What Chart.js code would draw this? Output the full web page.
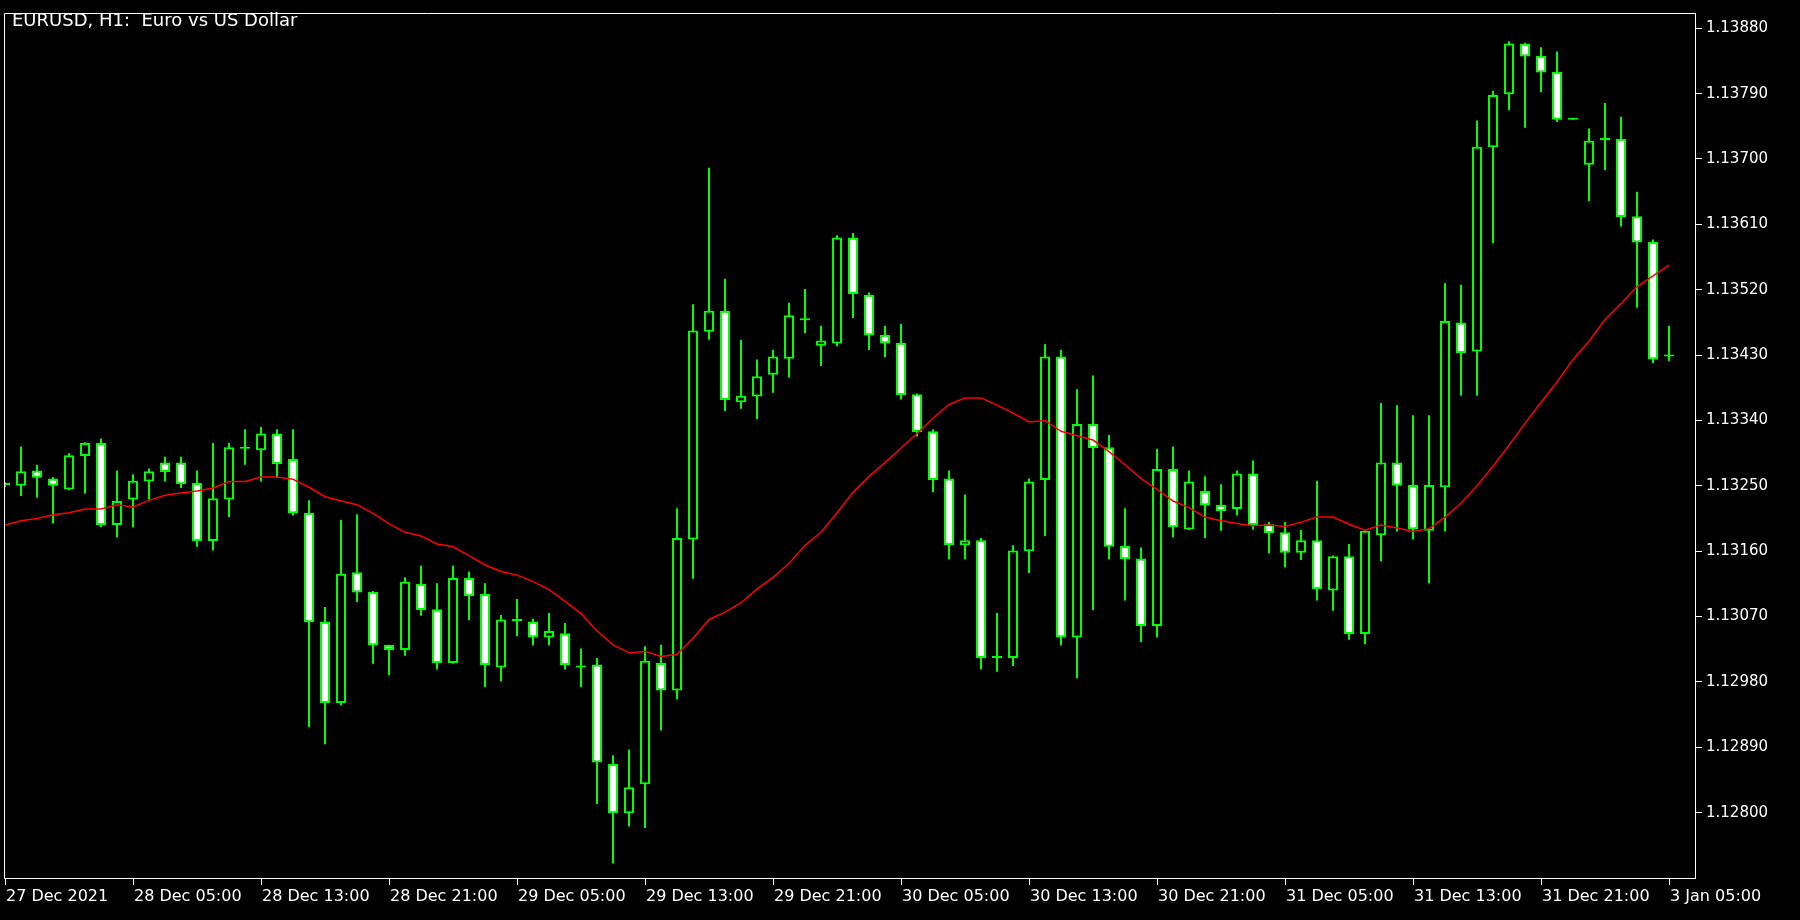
<!DOCTYPE html>
<html lang="en">
<head>
  <meta charset="UTF-8">
  <title>EURUSD, H1</title>
  <style>
    html, body {
      margin: 0;
      padding: 0;
      background: #000;
    }
    #wrap {
      width: 1800px;
      height: 920px;
    }
  </style>
  <script src="https://cdn.jsdelivr.net/npm/chart.js"></script>
</head>
<body>
  <div id="wrap"><canvas id="chart" width="1800" height="920"></canvas></div>

  <script>
    const chartTitle = 'EURUSD, H1:  Euro vs US Dollar';

    // labels under every 8th bar (bar 0, 8, 16 ...)
    const xTickLabels = ['27 Dec 2021', '28 Dec 05:00', '28 Dec 13:00', '28 Dec 21:00', '29 Dec 05:00',
      '29 Dec 13:00', '29 Dec 21:00', '30 Dec 05:00', '30 Dec 13:00', '30 Dec 21:00',
      '31 Dec 05:00', '31 Dec 13:00', '31 Dec 21:00', '3 Jan 05:00'];

    const yTicks = [1.12800, 1.12890, 1.12980, 1.13070, 1.13160, 1.13250, 1.13340,
      1.13430, 1.13520, 1.13610, 1.13700, 1.13790, 1.13880];

    // H1 bars
    const opens = [
      1.13251, 1.13250, 1.13271, 1.13260, 1.13245, 1.13291, 1.13309, 1.13196, 1.13231, 1.13256,
      1.13282, 1.13282, 1.13254, 1.13174, 1.13231, 1.13301, 1.13299, 1.13322, 1.13287, 1.13213,
      1.13063, 1.12951, 1.13131, 1.13104, 1.13031, 1.13024, 1.13115, 1.13080, 1.13006, 1.13123,
      1.13101, 1.13000, 1.13066, 1.13063, 1.13041, 1.13047, 1.13001, 1.13004, 1.12867, 1.12799,
      1.12839, 1.13006, 1.12968, 1.13176, 1.13462, 1.13491, 1.13365, 1.13373, 1.13403, 1.13425,
      1.13479, 1.13443, 1.13446, 1.13592, 1.13513, 1.13458, 1.13447, 1.13376, 1.13325, 1.13260,
      1.13168, 1.13175, 1.13014, 1.13013, 1.13160, 1.13258, 1.13428, 1.13041, 1.13335, 1.13303,
      1.13167, 1.13150, 1.13057, 1.13273, 1.13190, 1.13243, 1.13224, 1.13218, 1.13267, 1.13197,
      1.13186, 1.13158, 1.13175, 1.13106, 1.13153, 1.13046, 1.13182, 1.13282, 1.13251, 1.13188,
      1.13248, 1.13475, 1.13435, 1.13716, 1.13789, 1.13859, 1.13842, 1.13820, 1.13755, 1.13692,
      1.13726, 1.13728, 1.13621, 1.13586, 1.13428
    ];
    const highs = [
      1.13255, 1.13304, 1.13279, 1.13262, 1.13295, 1.13310, 1.13315, 1.13271, 1.13266, 1.13274,
      1.13290, 1.13290, 1.13271, 1.13309, 1.13309, 1.13328, 1.13331, 1.13328, 1.13328, 1.13230,
      1.13083, 1.13203, 1.13211, 1.13105, 1.13031, 1.13124, 1.13140, 1.13116, 1.13140, 1.13132,
      1.13116, 1.13072, 1.13094, 1.13067, 1.13075, 1.13061, 1.13026, 1.13013, 1.12879, 1.12887,
      1.13029, 1.13031, 1.13219, 1.13500, 1.13688, 1.13535, 1.13451, 1.13424, 1.13437, 1.13502,
      1.13521, 1.13470, 1.13595, 1.13598, 1.13516, 1.13470, 1.13473, 1.13377, 1.13328, 1.13271,
      1.13238, 1.13178, 1.13075, 1.13168, 1.13260, 1.13445, 1.13437, 1.13383, 1.13402, 1.13320,
      1.13219, 1.13165, 1.13301, 1.13304, 1.13271, 1.13263, 1.13252, 1.13271, 1.13285, 1.13200,
      1.13200, 1.13189, 1.13257, 1.13154, 1.13170, 1.13189, 1.13364, 1.13361, 1.13347, 1.13347,
      1.13529, 1.13527, 1.13753, 1.13794, 1.13862, 1.13860, 1.13854, 1.13848, 1.13755, 1.13742,
      1.13777, 1.13758, 1.13655, 1.13589, 1.13470
    ];
    const lows = [
      1.13248, 1.13236, 1.13234, 1.13198, 1.13244, 1.13239, 1.13193, 1.13179, 1.13193, 1.13231,
      1.13256, 1.13247, 1.13166, 1.13161, 1.13207, 1.13279, 1.13256, 1.13261, 1.13209, 1.12918,
      1.12894, 1.12948, 1.13090, 1.13005, 1.12989, 1.13016, 1.13071, 1.12997, 1.13005, 1.13065,
      1.12973, 1.12981, 1.13043, 1.13030, 1.13030, 1.12997, 1.12973, 1.12812, 1.12730, 1.12781,
      1.12779, 1.12913, 1.12956, 1.13122, 1.13451, 1.13353, 1.13356, 1.13342, 1.13378, 1.13399,
      1.13460, 1.13415, 1.13442, 1.13481, 1.13437, 1.13427, 1.13369, 1.13318, 1.13241, 1.13149,
      1.13149, 1.12997, 1.12994, 1.13002, 1.13130, 1.13181, 1.13030, 1.12985, 1.13079, 1.13149,
      1.13092, 1.13035, 1.13041, 1.13179, 1.13189, 1.13178, 1.13188, 1.13209, 1.13190, 1.13157,
      1.13138, 1.13148, 1.13092, 1.13078, 1.13038, 1.13032, 1.13146, 1.13187, 1.13176, 1.13116,
      1.13187, 1.13374, 1.13374, 1.13584, 1.13767, 1.13743, 1.13792, 1.13751, 1.13754, 1.13642,
      1.13685, 1.13607, 1.13495, 1.13419, 1.13422
    ];
    const closes = [
      1.13251, 1.13270, 1.13261, 1.13250, 1.13292, 1.13309, 1.13196, 1.13229, 1.13257, 1.13270,
      1.13269, 1.13252, 1.13174, 1.13233, 1.13303, 1.13303, 1.13322, 1.13280, 1.13212, 1.13062,
      1.12951, 1.13129, 1.13103, 1.13030, 1.13024, 1.13118, 1.13079, 1.13006, 1.13123, 1.13098,
      1.13003, 1.13066, 1.13064, 1.13041, 1.13050, 1.13003, 1.13000, 1.12869, 1.12799, 1.12835,
      1.13009, 1.12968, 1.13178, 1.13464, 1.13491, 1.13368, 1.13374, 1.13401, 1.13428, 1.13485,
      1.13478, 1.13450, 1.13592, 1.13514, 1.13457, 1.13446, 1.13375, 1.13324, 1.13258, 1.13168,
      1.13175, 1.13013, 1.13013, 1.13161, 1.13256, 1.13428, 1.13041, 1.13335, 1.13302, 1.13166,
      1.13149, 1.13057, 1.13273, 1.13193, 1.13256, 1.13223, 1.13215, 1.13267, 1.13196, 1.13185,
      1.13158, 1.13175, 1.13108, 1.13153, 1.13046, 1.13188, 1.13282, 1.13250, 1.13190, 1.13251,
      1.13477, 1.13433, 1.13717, 1.13788, 1.13859, 1.13841, 1.13819, 1.13754, 1.13754, 1.13725,
      1.13726, 1.13620, 1.13585, 1.13424, 1.13429
    ];

    // red moving average, one value per bar
    const maValues = [
      1.13196, 1.13202, 1.13205, 1.13210, 1.13213, 1.13218, 1.13218, 1.13224, 1.13221, 1.13230,
      1.13237, 1.13240, 1.13243, 1.13247, 1.13256, 1.13256, 1.13262, 1.13262, 1.13259, 1.13248,
      1.13235, 1.13229, 1.13224, 1.13212, 1.13198, 1.13186, 1.13181, 1.13170, 1.13166, 1.13154,
      1.13141, 1.13132, 1.13127, 1.13118, 1.13107, 1.13091, 1.13074, 1.13050, 1.13031, 1.13020,
      1.13022, 1.13015, 1.13018, 1.13040, 1.13066, 1.13076, 1.13089, 1.13108, 1.13124, 1.13143,
      1.13168, 1.13186, 1.13213, 1.13241, 1.13263, 1.13282, 1.13302, 1.13322, 1.13343, 1.13362,
      1.13371, 1.13371, 1.13361, 1.13350, 1.13338, 1.13340, 1.13325, 1.13319, 1.13313, 1.13297,
      1.13279, 1.13260, 1.13245, 1.13229, 1.13220, 1.13207, 1.13202, 1.13198, 1.13195, 1.13196,
      1.13194, 1.13200, 1.13207, 1.13207, 1.13197, 1.13189, 1.13196, 1.13192, 1.13187, 1.13191,
      1.13207, 1.13226, 1.13250, 1.13277, 1.13306, 1.13336, 1.13365, 1.13393, 1.13424, 1.13449,
      1.13479, 1.13501, 1.13524, 1.13539, 1.13554
    ];

    const green = '#00ff00';

    const wicks = lows.map((l, i) => ({ x: i, y: [l, highs[i]] }));
    const bodies = opens.map((o, i) => ({ x: i, y: [o, closes[i]] }));
    const bodyFill = opens.map((o, i) => closes[i] >= o ? '#000000' : '#ffffff');
    const maPoints = maValues.map((v, i) => ({ x: i, y: v }));

    // black background, left/top frame and the symbol caption
    const mtFrame = {
      id: 'mtFrame',
      beforeDraw(chart) {
        const c = chart.ctx;
        c.save();
        c.fillStyle = '#000';
        c.fillRect(0, 0, chart.width, chart.height);
        c.restore();
      },
      afterDraw(chart) {
        const c = chart.ctx;
        const a = chart.chartArea;
        c.save();
        c.strokeStyle = '#ffffff';
        c.lineWidth = 1;
        c.beginPath();
        c.moveTo(a.left + 0.5, a.bottom + 0.5);
        c.lineTo(a.left + 0.5, a.top + 0.5);
        c.lineTo(a.right + 0.5, a.top + 0.5);
        c.stroke();
        c.fillStyle = '#ffffff';
        c.font = '18px "DejaVu Sans"';
        c.textBaseline = 'middle';
        c.fillText(chartTitle, 12, 21);
        c.restore();
      }
    };

    const ctx = document.getElementById('chart').getContext('2d');
    const chart = new Chart(ctx, {
      type: 'bar',
      data: {
        datasets: [
          {
            type: 'line',
            data: maPoints,
            borderColor: '#ff0000',
            borderWidth: 1.5,
            pointRadius: 0,
            tension: 0,
            order: 1
          },
          {
            data: bodies,
            backgroundColor: bodyFill,
            borderColor: green,
            borderWidth: 2,
            borderSkipped: false,
            barThickness: 10,
            maxBarThickness: 10,
            minBarLength: 2,
            inflateAmount: 0,
            grouped: false,
            order: 2
          },
          {
            data: wicks,
            backgroundColor: green,
            borderWidth: 0,
            barThickness: 2,
            maxBarThickness: 2,
            inflateAmount: 0,
            grouped: false,
            order: 3
          }
        ]
      },
      options: {
        responsive: false,
        animation: false,
        devicePixelRatio: 1,
        layout: { padding: { left: 4, top: 3, right: 0, bottom: 0 } },
        plugins: {
          legend: { display: false },
          tooltip: { enabled: false }
        },
        scales: {
          x: {
            type: 'linear',
            offset: false,
            min: -0.0625,
            max: 105.625,
            afterBuildTicks: s => { s.ticks = xTickLabels.map((_, k) => ({ value: k * 8 })); },
            afterFit: s => { s.height = 42; },
            grid: { offset: false, drawOnChartArea: false, tickLength: 7, tickColor: '#ffffff' },
            border: { display: true, color: '#ffffff', width: 1 },
            ticks: {
              autoSkip: false,
              maxRotation: 0,
              minRotation: 0,
              align: 'start',
              labelOffset: 1,
              padding: 2,
              color: '#ffffff',
              font: { family: 'DejaVu Sans', size: 16 },
              callback: (v, i) => xTickLabels[i]
            }
          },
          y: {
            position: 'right',
            min: 1.12710,
            max: 1.13901,
            afterBuildTicks: s => { s.ticks = yTicks.map(v => ({ value: v })); },
            afterFit: s => { s.width = 105; },
            grid: { drawOnChartArea: false, tickLength: 7, tickColor: '#ffffff' },
            border: { display: true, color: '#ffffff', width: 1 },
            ticks: {
              padding: 4,
              color: '#ffffff',
              font: { family: 'DejaVu Sans', size: 15 },
              callback: v => v.toFixed(5)
            }
          }
        }
      },
      plugins: [mtFrame]
    });
  </script>
</body>
</html>
